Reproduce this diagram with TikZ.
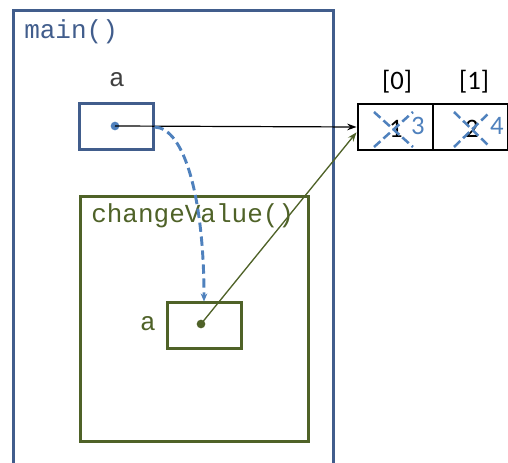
\documentclass[tikz,border=0pt]{standalone}
\usepackage{fontspec}
\setmainfont{Carlito}
\setmonofont{Liberation Mono}
\usetikzlibrary{arrows.meta,calc}
\definecolor{mainblue}{RGB}{65,93,140}
\definecolor{dashblue}{RGB}{79,129,189}
\definecolor{cvgreen}{RGB}{79,98,40}
\begin{document}
\begin{tikzpicture}[x=0.75pt,y=-0.75pt,
  mono/.style={font=\ttfamily\fontsize{19.5}{23}\selectfont, inner sep=0pt},
  cal/.style={font=\fontsize{20}{24}\selectfont, inner sep=0pt},
  bluebox/.style={draw=mainblue, line width=2.25pt, inner sep=0pt},
  greenbox/.style={draw=cvgreen, line width=2.25pt, inner sep=0pt},
  cellbox/.style={draw=black, line width=2.2pt, inner sep=0pt, minimum width=75*0.75pt, minimum height=46*0.75pt},
  dotnode/.style={circle, inner sep=0pt, minimum size=6.5pt},
  cross/.style={draw=dashblue, line width=1.9pt, dash pattern=on 6.5pt off 3pt}
]
\useasboundingbox (0,0) rectangle (508,463);
\clip (0,0) rectangle (508,463);
% main frame
\node[bluebox, anchor=north west, minimum width=320*0.75pt, minimum height=480*0.75pt] (main) at (12,9) {};
\node[mono, text=mainblue, anchor=west] (mainlbl) at (24,32) {main()};
% variable a in main
\node[mono, text=black!75] (alabel) at (117,80) {a};
\node[bluebox, minimum width=74*0.75pt, minimum height=46*0.75pt] (abox) at (116,127) {};
\node[dotnode, fill=dashblue] (adot) at (115,126) {};
% changeValue frame
\node[greenbox, anchor=north west, minimum width=228*0.75pt, minimum height=245*0.75pt] (cv) at (79,195) {};
\node[mono, text=cvgreen, anchor=west] (cvlbl) at (91,216) {changeValue()};
\node[mono, text=cvgreen] (blabel) at (148,324) {a};
\node[greenbox, minimum width=74*0.75pt, minimum height=46*0.75pt] (bbox) at (204,326) {};
\node[dotnode, fill=cvgreen] (bdot) at (201,324) {};
% array
\node[cellbox] (cell0) at (395.5,127) {};
\node[cellbox] (cell1) at (470.5,127) {};
\node[cal] (idx0) at (397,82) {[0]};
\node[cal] (idx1) at (474,82) {[1]};
\node[cal] (v1) at (396,129) {1};
\node[cal, text=dashblue] (v3) at (418,126) {3};
\node[cal] (v2) at (472,129) {2};
\node[cal, text=dashblue] (v4) at (497,126) {4};
\coordinate (x1a) at (374,112); \coordinate (x1b) at (413,147);
\coordinate (x1c) at (374,147); \coordinate (x1d) at (413,112);
\coordinate (x2a) at (454,112); \coordinate (x2b) at (490,147);
\coordinate (x2c) at (454,147); \coordinate (x2d) at (490,112);
\draw[cross] (x1a) -- (x1b);
\draw[cross] (x1c) -- (x1d);
\draw[cross] (x2a) -- (x2b);
\draw[cross] (x2c) -- (x2d);
% connectors
\draw[black, line width=0.9pt, -{Stealth[length=7pt,width=5pt]}] (adot.center) -- (cell0.west);
\draw[cvgreen, line width=1pt, -{Stealth[length=7pt,width=5pt]}] (bdot.center) -- ([yshift=-4pt]cell0.west);
\draw[dashblue, line width=2.2pt, dash pattern=on 7pt off 3.5pt, -{Stealth[length=6pt,width=5pt]}] (abox.east) .. controls (185,128) and (204,200) .. (bbox.north);
\end{tikzpicture}
\end{document}
